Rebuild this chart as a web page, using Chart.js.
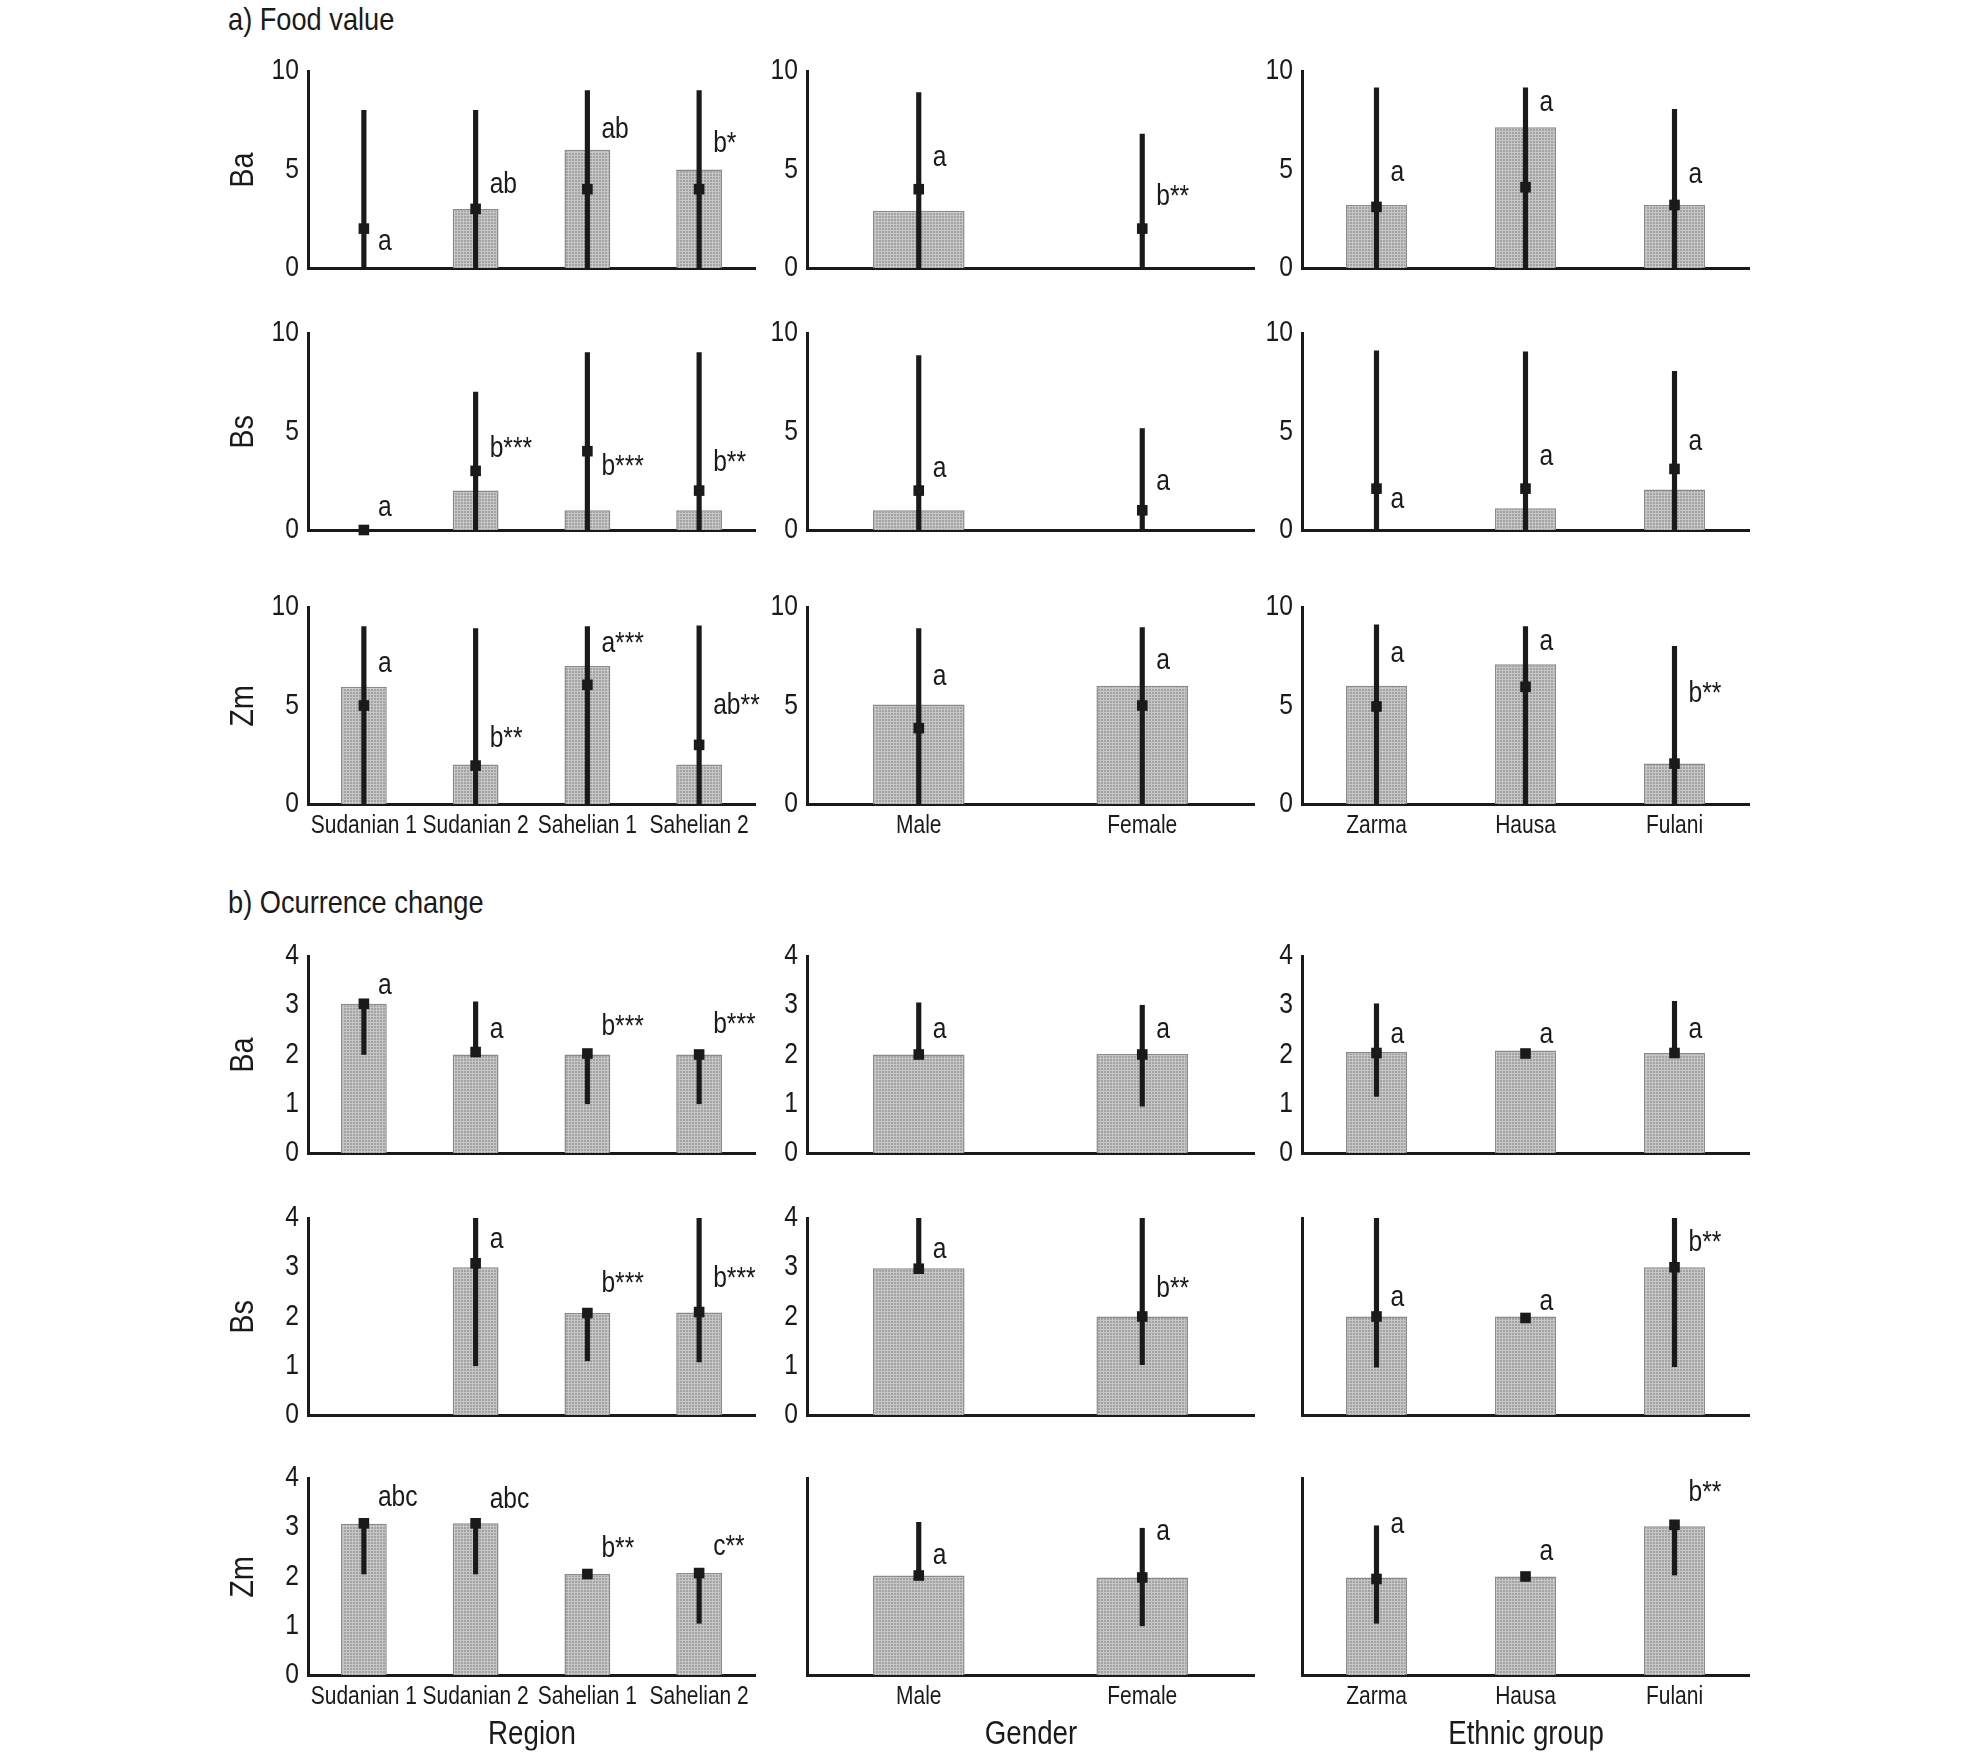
<!DOCTYPE html>
<html>
<head>
<meta charset="utf-8">
<script src="https://cdn.jsdelivr.net/npm/chart.js@4.4.1/dist/chart.umd.min.js"></script>
<style>
  body { margin: 0; background: #fff; width: 1988px; height: 1752px; position: relative; overflow: hidden;
         font-family: 'Liberation Sans', Arial, sans-serif; color: #1a1a1a; }
  .box { position: absolute; }
  .txt { position: absolute; white-space: nowrap; line-height: 1; }
  .rowlab { position: absolute; white-space: nowrap; line-height: 1; font-size: 34px;
            transform: translate(-50%, -50%) rotate(-90deg) scaleX(0.85); }
</style>
</head>
<body>
<script>
// ===== categories =====
const regions = ['Sudanian 1', 'Sudanian 2', 'Sahelian 1', 'Sahelian 2'];
const genders = ['Male', 'Female'];
const ethnic  = ['Zarma', 'Hausa', 'Fulani'];

const foodTicks = [0, 5, 10];
const occTicks  = [0, 1, 2, 3, 4];

// ===== a) Food value =====
// Ba
const fBaRegBar = [null, 3, 6, 5];
const fBaRegMed = [2, 3, 4, 4];
const fBaRegErr = [[0, 8], [0, 8], [0, 9], [0, 9]];
const fBaRegTxt = ['a', 'ab', 'ab', 'b*'];
const fBaRegAt  = [1.3, 4.2, 7.0, 6.3];

const fBaGenBar = [2.9, null];
const fBaGenMed = [4, 2];
const fBaGenErr = [[0, 8.9], [0, 6.8]];
const fBaGenTxt = ['a', 'b**'];
const fBaGenAt  = [5.6, 3.6];

const fBaEthBar = [3.2, 7.15, 3.2];
const fBaEthMed = [3.1, 4.1, 3.2];
const fBaEthErr = [[0, 9.15], [0, 9.15], [0, 8.05]];
const fBaEthTxt = ['a', 'a', 'a'];
const fBaEthAt  = [4.8, 8.4, 4.7];

// Bs
const fBsRegBar = [null, 2, 1, 1];
const fBsRegMed = [0, 3, 4, 2];
const fBsRegErr = [null, [0, 7], [0, 9], [0, 9]];
const fBsRegTxt = ['a', 'b***', 'b***', 'b**'];
const fBsRegAt  = [1.1, 4.1, 3.2, 3.4];

const fBsGenBar = [1, null];
const fBsGenMed = [2, 1];
const fBsGenErr = [[0, 8.85], [0, 5.15]];
const fBsGenTxt = ['a', 'a'];
const fBsGenAt  = [3.1, 2.45];

const fBsEthBar = [null, 1.1, 2.05];
const fBsEthMed = [2.1, 2.1, 3.1];
const fBsEthErr = [[0, 9.1], [0, 9.05], [0, 8.05]];
const fBsEthTxt = ['a', 'a', 'a'];
const fBsEthAt  = [1.5, 3.7, 4.45];

// Zm
const fZmRegBar = [5.95, 2, 7, 2];
const fZmRegMed = [5, 1.95, 6.05, 3];
const fZmRegErr = [[0, 9], [0, 8.9], [0, 9], [0, 9.05]];
const fZmRegTxt = ['a', 'b**', 'a***', 'ab**'];
const fZmRegAt  = [7.1, 3.3, 8.1, 5.0];

const fZmGenBar = [5.05, 6];
const fZmGenMed = [3.85, 5];
const fZmGenErr = [[0, 8.9], [0, 8.95]];
const fZmGenTxt = ['a', 'a'];
const fZmGenAt  = [6.45, 7.25];

const fZmEthBar = [6, 7.1, 2.05];
const fZmEthMed = [4.95, 5.95, 2.05];
const fZmEthErr = [[0, 9.1], [0, 9], [0, 8]];
const fZmEthTxt = ['a', 'a', 'b**'];
const fZmEthAt  = [7.6, 8.2, 5.6];

// ===== b) Ocurrence change =====
// Ba
const oBaRegBar = [3.03, 2, 2, 2];
const oBaRegMed = [3.03, 2.05, 2.02, 2.0];
const oBaRegErr = [[2, 3.03], [2.05, 3.07], [1, 2.02], [1, 2]];
const oBaRegTxt = ['a', 'a', 'b***', 'b***'];
const oBaRegAt  = [3.4, 2.5, 2.55, 2.6];

const oBaGenBar = [2, 2.01];
const oBaGenMed = [2, 2];
const oBaGenErr = [[2, 3.05], [0.95, 3]];
const oBaGenTxt = ['a', 'a'];
const oBaGenAt  = [2.5, 2.5];

const oBaEthBar = [2.05, 2.08, 2.03];
const oBaEthMed = [2.03, 2.02, 2.03];
const oBaEthErr = [[1.15, 3.03], null, [2.03, 3.08]];
const oBaEthTxt = ['a', 'a', 'a'];
const oBaEthAt  = [2.4, 2.4, 2.5];

// Bs
const oBsRegBar = [null, 3, 2.07, 2.08];
const oBsRegMed = [null, 3.08, 2.07, 2.09];
const oBsRegErr = [null, [1, 4], [1.1, 2.07], [1.08, 4]];
const oBsRegTxt = ['', 'a', 'b***', 'b***'];
const oBsRegAt  = [null, 3.55, 2.66, 2.76];

const oBsGenBar = [2.98, 2];
const oBsGenMed = [2.97, 2];
const oBsGenErr = [[2.97, 4], [1.02, 4]];
const oBsGenTxt = ['a', 'b**'];
const oBsGenAt  = [3.35, 2.55];

const oBsEthBar = [2, 2, 3];
const oBsEthMed = [2, 1.97, 3];
const oBsEthErr = [[0.97, 4], null, [0.98, 4]];
const oBsEthTxt = ['a', 'a', 'b**'];
const oBsEthAt  = [2.37, 2.3, 3.5];

// Zm
const oZmRegBar = [3.07, 3.08, 2.05, 2.07];
const oZmRegMed = [3.08, 3.08, 2.05, 2.07];
const oZmRegErr = [[2.05, 3.1], [2.05, 3.1], null, [1.05, 2.1]];
const oZmRegTxt = ['abc', 'abc', 'b**', 'c**'];
const oZmRegAt  = [3.6, 3.55, 2.55, 2.6];

const oZmGenBar = [2.02, 1.98];
const oZmGenMed = [2.02, 1.98];
const oZmGenErr = [[2, 3.1], [1, 2.98]];
const oZmGenTxt = ['a', 'a'];
const oZmGenAt  = [2.42, 2.9];

const oZmEthBar = [1.98, 2.0, 3.02];
const oZmEthMed = [1.95, 2.0, 3.05];
const oZmEthErr = [[1.05, 3.03], null, [2.03, 3.05]];
const oZmEthTxt = ['a', 'a', 'b**'];
const oZmEthAt  = [3.05, 2.5, 3.7];

// ===== layout =====
const FONT = "'Liberation Sans', Arial, sans-serif";
const INK = '#1a1a1a';
const colX = [308, 807, 1302];
const rowTop = [71, 333, 607, 956, 1218, 1478];
const PW = 447, PH = 197, LEFT = 70, TOP = 24, RIGHT = 24, XH = 4;

const panels = [
  { r: 0, c: 0, cats: regions, bar: fBaRegBar, med: fBaRegMed, err: fBaRegErr, txt: fBaRegTxt, at: fBaRegAt },
  { r: 0, c: 1, cats: genders, bar: fBaGenBar, med: fBaGenMed, err: fBaGenErr, txt: fBaGenTxt, at: fBaGenAt },
  { r: 0, c: 2, cats: ethnic,  bar: fBaEthBar, med: fBaEthMed, err: fBaEthErr, txt: fBaEthTxt, at: fBaEthAt },
  { r: 1, c: 0, cats: regions, bar: fBsRegBar, med: fBsRegMed, err: fBsRegErr, txt: fBsRegTxt, at: fBsRegAt },
  { r: 1, c: 1, cats: genders, bar: fBsGenBar, med: fBsGenMed, err: fBsGenErr, txt: fBsGenTxt, at: fBsGenAt },
  { r: 1, c: 2, cats: ethnic,  bar: fBsEthBar, med: fBsEthMed, err: fBsEthErr, txt: fBsEthTxt, at: fBsEthAt },
  { r: 2, c: 0, cats: regions, bar: fZmRegBar, med: fZmRegMed, err: fZmRegErr, txt: fZmRegTxt, at: fZmRegAt },
  { r: 2, c: 1, cats: genders, bar: fZmGenBar, med: fZmGenMed, err: fZmGenErr, txt: fZmGenTxt, at: fZmGenAt },
  { r: 2, c: 2, cats: ethnic,  bar: fZmEthBar, med: fZmEthMed, err: fZmEthErr, txt: fZmEthTxt, at: fZmEthAt },
  { r: 3, c: 0, cats: regions, bar: oBaRegBar, med: oBaRegMed, err: oBaRegErr, txt: oBaRegTxt, at: oBaRegAt },
  { r: 3, c: 1, cats: genders, bar: oBaGenBar, med: oBaGenMed, err: oBaGenErr, txt: oBaGenTxt, at: oBaGenAt },
  { r: 3, c: 2, cats: ethnic,  bar: oBaEthBar, med: oBaEthMed, err: oBaEthErr, txt: oBaEthTxt, at: oBaEthAt },
  { r: 4, c: 0, cats: regions, bar: oBsRegBar, med: oBsRegMed, err: oBsRegErr, txt: oBsRegTxt, at: oBsRegAt },
  { r: 4, c: 1, cats: genders, bar: oBsGenBar, med: oBsGenMed, err: oBsGenErr, txt: oBsGenTxt, at: oBsGenAt },
  { r: 4, c: 2, cats: ethnic,  bar: oBsEthBar, med: oBsEthMed, err: oBsEthErr, txt: oBsEthTxt, at: oBsEthAt, noTicks: true },
  { r: 5, c: 0, cats: regions, bar: oZmRegBar, med: oZmRegMed, err: oZmRegErr, txt: oZmRegTxt, at: oZmRegAt },
  { r: 5, c: 1, cats: genders, bar: oZmGenBar, med: oZmGenMed, err: oZmGenErr, txt: oZmGenTxt, at: oZmGenAt, noTicks: true },
  { r: 5, c: 2, cats: ethnic,  bar: oZmEthBar, med: oZmEthMed, err: oZmEthErr, txt: oZmEthTxt, at: oZmEthAt, noTicks: true }
];

// grey dotted bar fill
function texture() {
  const c = document.createElement('canvas');
  c.width = 3; c.height = 3;
  const g = c.getContext('2d');
  g.fillStyle = '#a2a2a2'; g.fillRect(0, 0, 3, 3);
  g.fillStyle = '#c6c6c6'; g.fillRect(0, 0, 3, 1); g.fillRect(0, 0, 1, 3);
  return g.createPattern(c, 'repeat');
}
const FILL = texture();

// condensed look: Liberation Sans squeezed horizontally
function narrow(ctx, str, x, y, size, align, sx) {
  ctx.save();
  ctx.translate(x, y);
  ctx.scale(sx, 1);
  ctx.font = size + 'px ' + FONT;
  ctx.fillStyle = INK;
  ctx.textAlign = align;
  ctx.textBaseline = 'middle';
  ctx.fillText(str, 0, 0);
  ctx.restore();
}

// significance letters next to each error line
const letters = {
  id: 'letters',
  afterDatasetsDraw(chart, args, opts) {
    const { ctx, scales: { x, y } } = chart;
    opts.text.forEach((t, i) => {
      if (!t) return;
      narrow(ctx, t, x.getPixelForValue(i) + 14, y.getPixelForValue(opts.at[i]), 29, 'left', 0.85);
    });
  }
};

// tick labels drawn from the scales
const axisText = {
  id: 'axisText',
  afterDraw(chart, args, opts) {
    const { ctx, chartArea: a, scales: { x, y } } = chart;
    if (opts.yLabels) {
      y.ticks.forEach(t => narrow(ctx, String(t.value), a.left - 9, y.getPixelForValue(t.value), 29, 'right', 0.85));
    }
    if (opts.xLabels) {
      chart.data.labels.forEach((l, i) => narrow(ctx, l, x.getPixelForValue(i), a.bottom + 22, 25, 'center', 0.84));
    }
  }
};

function addText(str, left, top, size, center, sx) {
  const d = document.createElement('div');
  d.className = 'txt';
  d.textContent = str;
  d.style.fontSize = size + 'px';
  d.style.left = left + 'px';
  d.style.top = top + 'px';
  if (center) {
    d.style.transform = 'translate(-50%, -50%) scaleX(' + sx + ')';
  } else {
    d.style.transformOrigin = '0 50%';
    d.style.transform = 'translateY(-50%) scaleX(' + sx + ')';
  }
  document.body.appendChild(d);
}

panels.forEach(p => {
  const food = p.r < 3;
  const bottom = p.r === 2 || p.r === 5;
  const padB = bottom ? 44 : 6;
  const W = LEFT + PW + RIGHT, H = TOP + PH + XH + padB;

  const box = document.createElement('div');
  box.className = 'box';
  box.style.left = (colX[p.c] - LEFT) + 'px';
  box.style.top = (rowTop[p.r] - TOP) + 'px';
  const cv = document.createElement('canvas');
  cv.width = W; cv.height = H;
  cv.style.width = W + 'px'; cv.style.height = H + 'px';
  box.appendChild(cv);
  document.body.appendChild(box);

  new Chart(cv, {
    type: 'bar',
    data: {
      labels: p.cats,
      datasets: [
        {
          type: 'line', data: p.med, showLine: false, order: 1, clip: false,
          pointStyle: 'rect', pointRadius: 7.5, pointHoverRadius: 7.5,
          pointBackgroundColor: INK, pointBorderWidth: 0
        },
        {
          data: p.err, grouped: false, order: 2,
          barThickness: 4.5, backgroundColor: INK, borderWidth: 0
        },
        {
          data: p.bar, grouped: false, order: 3,
          barPercentage: 0.41, categoryPercentage: 1,
          backgroundColor: FILL, borderColor: '#8a8a8a', borderWidth: 1.5
        }
      ]
    },
    options: {
      responsive: false, animation: false, devicePixelRatio: 1,
      layout: { padding: { top: TOP, right: RIGHT, left: 0, bottom: padB } },
      plugins: {
        legend: { display: false },
        tooltip: { enabled: false },
        letters: { text: p.txt, at: p.at },
        axisText: { yLabels: !p.noTicks, xLabels: bottom }
      },
      scales: {
        x: {
          type: 'category', offset: true,
          grid: { display: false },
          border: { display: true, color: INK, width: 3 },
          ticks: { display: false },
          afterFit: s => { s.height = XH; }
        },
        y: {
          min: 0, max: food ? 10 : 4,
          afterBuildTicks: s => { s.ticks = (food ? foodTicks : occTicks).map(v => ({ value: v })); },
          grid: { display: false },
          border: { display: true, color: INK, width: 3 },
          ticks: { display: false },
          afterFit: s => { s.width = LEFT; }
        }
      }
    },
    plugins: [letters, axisText]
  });
});

// titles and axis names
addText('a) Food value', 228, 19, 32, false, 0.85);
addText('b) Ocurrence change', 228, 902, 32, false, 0.85);
['Ba', 'Bs', 'Zm', 'Ba', 'Bs', 'Zm'].forEach((t, i) => {
  const d = document.createElement('div');
  d.className = 'rowlab';
  d.textContent = t;
  d.style.left = '241px';
  d.style.top = (rowTop[i] + PH / 2) + 'px';
  document.body.appendChild(d);
});
addText('Region', colX[0] + PW / 2, 1732, 33, true, 0.84);
addText('Gender', colX[1] + PW / 2, 1732, 33, true, 0.84);
addText('Ethnic group', colX[2] + PW / 2, 1732, 33, true, 0.84);
</script>
</body>
</html>
